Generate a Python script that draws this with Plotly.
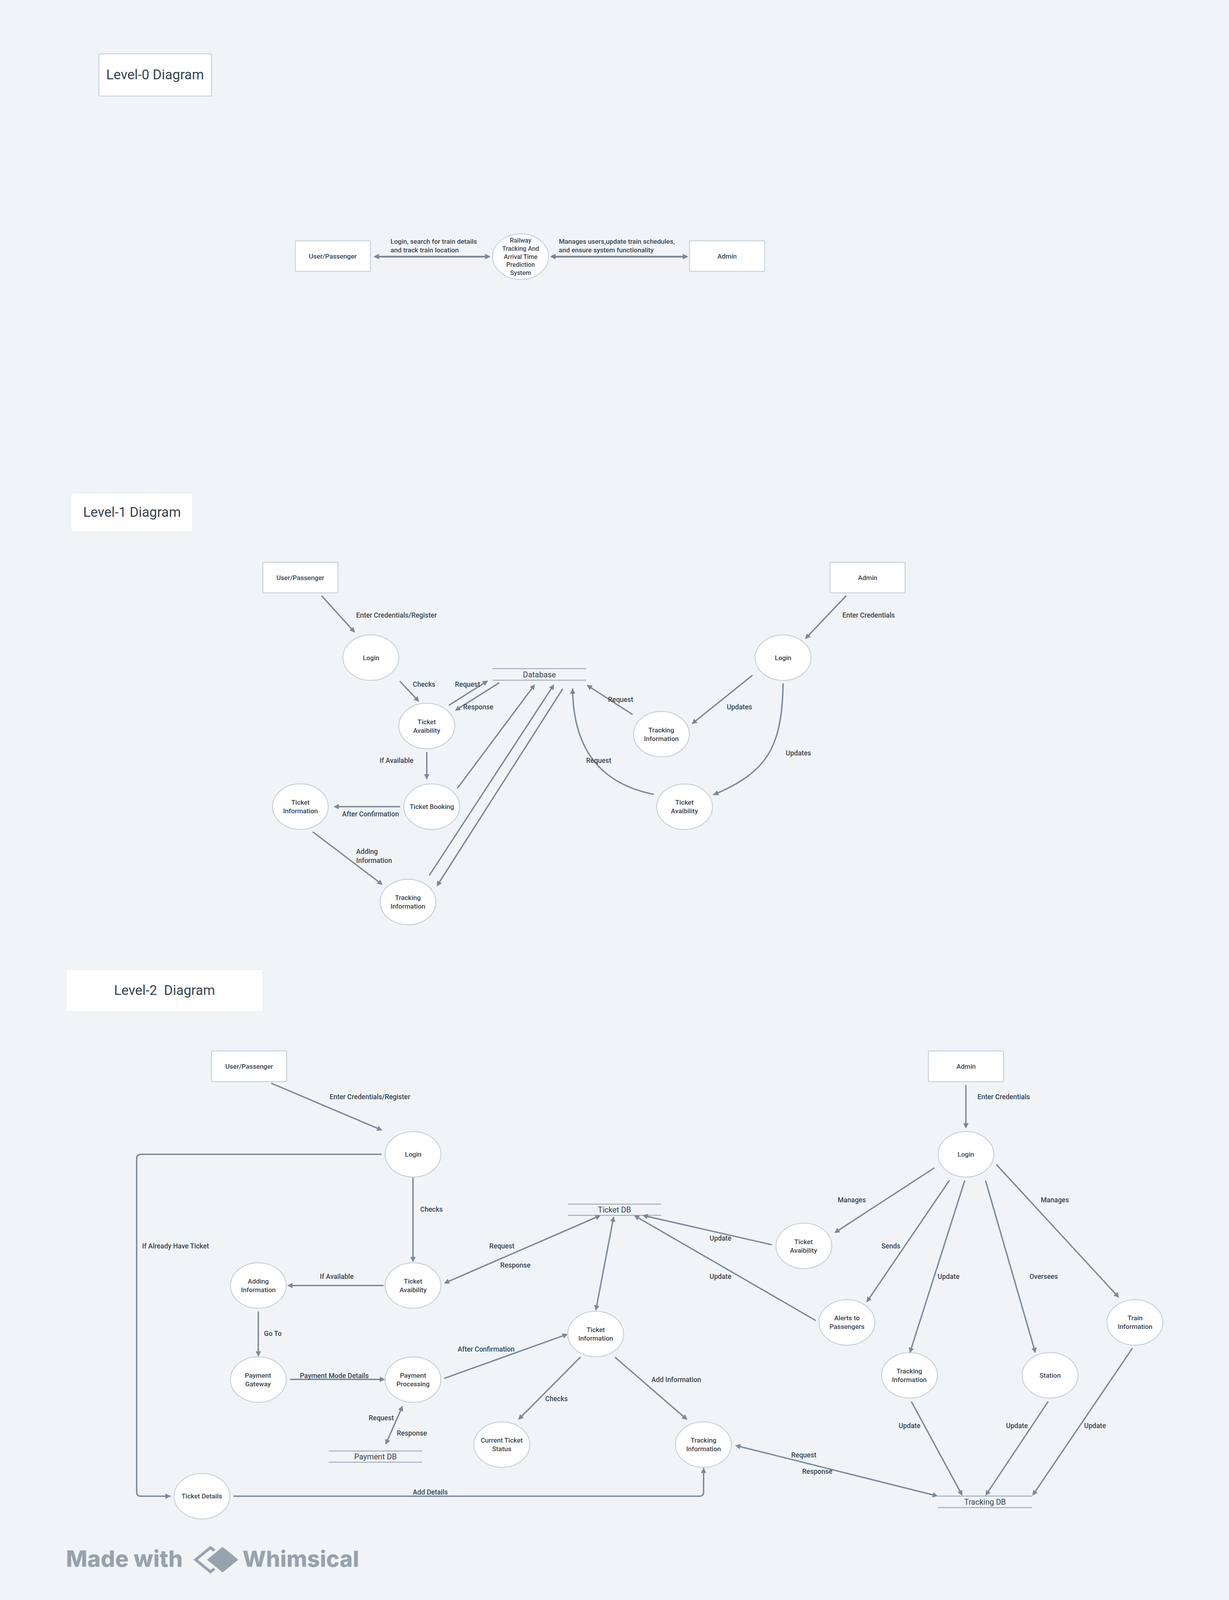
import math

import plotly.graph_objects as go

# the Whimsical export is 3147 x 5025 px; everything is placed on a 982 x 1568 grid
PAGE_W, PAGE_H = 982, 1568

BG = "#f0f4f7"
INK = "#37434f"
WIRE = "#7b8896"
RIM = "#c8d2dc"
BRAND = "#97a2ac"
FONT = "Roboto"

# ---- section titles
title_text = ["Level-0 Diagram", "Level-1 Diagram", "Level-2  Diagram"]
title_x0 = [79, 56.7, 52.9]
title_x1 = [169, 154, 210]
title_y0 = [52.7, 483.4, 950.2]
title_y1 = [94.2, 520.8, 991.2]
title_framed = [True, False, False]

# ---- external entities (boxes)
entity_label = ["User/Passenger", "Admin", "User/Passenger", "Admin", "User/Passenger", "Admin"]
entity_x = [266, 581, 240, 693.2, 199, 771.8]
entity_y = [251, 251, 566, 566, 1045, 1045]

# ---- processes (circles)
proc_label = [
    "Railway<br>Tracking And<br>Arrival Time<br>Prediction<br>System",
    # level 1
    "Login", "Ticket<br>Avaibility", "Ticket Booking", "Ticket<br>Information",
    "Tracking<br>Information", "Login", "Tracking<br>Information", "Ticket<br>Avaibility",
    # level 2
    "Login", "Ticket<br>Avaibility", "Adding<br>Information", "Payment<br>Gateway",
    "Payment<br>Processing", "Ticket Details", "Ticket<br>Information",
    "Current Ticket<br>Status", "Tracking<br>Information", "Login", "Ticket<br>Avaibility",
    "Alerts to<br>Passengers", "Train<br>Information", "Tracking<br>Information", "Station",
]
proc_x = [416,
          296.3, 341, 345, 240, 326, 625.7, 528.5, 547,
          330, 330, 206.4, 206.4, 330, 161.4, 476, 401, 562, 771.8, 642.3,
          676.7, 906.8, 726.7, 839]
proc_y = [251.5,
          644.5, 711.5, 790.5, 790.5, 884, 644.6, 719.5, 790.6,
          1131.2, 1259.8, 1259.8, 1352, 1352, 1466.3, 1307.3, 1415.7, 1415.7, 1131.2, 1221,
          1296, 1296, 1347.8, 1347.8]

# ---- data stores (two rules with a name)
store_label = ["Database", "Ticket DB", "Payment DB", "Tracking DB"]
store_x0 = [393.5, 453.7, 262.6, 749.4]
store_x1 = [468.4, 528.3, 337.3, 824.7]
store_top = [655.3, 1180, 1422, 1466.2]
store_bot = [666.6, 1191, 1433, 1477.5]

# ---- level-0 flows (both ends arrowed)
l0_flows = [(298, 251.5, 392, 251.5), (439, 251.5, 550, 251.5)]
l0_notes = ["Login, search for train details<br>and track train location",
            "Manages users,update train schedules,<br>and ensure system functionality"]
l0_note_x = [311.5, 446]
l0_note_y = [249.6, 249.6]   # bottom of the two-line note, just above the arrow

# ---- straight flows: tail x, tail y, head x, head y, two-way
flows = [
    # level 1
    (256.5, 583.2, 283.7, 620, False),
    (319, 667, 335, 687.8, False),
    (358.2, 691.5, 390, 667, False),
    (399.4, 668.7, 363.5, 696.5, False),
    (341, 736.4, 341, 764, False),
    (320, 790.5, 266.5, 790.5, False),
    (249.4, 814.7, 305.8, 867.2, False),
    (365, 773.3, 427.5, 670.6, False),
    (342.6, 858.7, 442.8, 670.6, False),
    (450, 674.3, 348.9, 868.7, False),
    (676.6, 583.2, 643.2, 626.3, False),
    (601.7, 661.3, 552.6, 709.6, False),
    (505.8, 700.5, 468.7, 671.2, False),
    # level 2
    (216.3, 1061.3, 305.5, 1107.8, False),
    (330, 1153.4, 330, 1237, False),
    (307, 1259.8, 229.5, 1259.8, False),
    (206.4, 1284.7, 206.4, 1329.6, False),
    (231.2, 1351.8, 307.7, 1351.8, False),
    (322, 1377, 308, 1415.8, True),
    (354.2, 1258, 480, 1191, True),
    (490.5, 1191.4, 476, 1284.5, True),
    (617.3, 1220, 513.3, 1191, False),
    (652.2, 1294.4, 506.5, 1191, False),
    (354.5, 1351, 453.7, 1307.4, False),
    (464.3, 1329.3, 414, 1391.4, False),
    (490.9, 1329.6, 549.2, 1391.4, False),
    (771.8, 1062.7, 771.8, 1106, False),
    (747, 1144.2, 666.6, 1208.3, False),
    (759, 1156, 692.3, 1276.4, False),
    (771, 1156.4, 726.9, 1326.1, False),
    (787.3, 1156.4, 827.4, 1326.1, False),
    (795.7, 1140.7, 894.2, 1271.8, False),
    (727.9, 1372.9, 769, 1465.8, False),
    (837.8, 1372.9, 787.4, 1465.8, False),
    (905.1, 1320.7, 824.9, 1465.8, False),
    (586.9, 1416.3, 749.4, 1466.2, True),
]

# ---- curved flows (cubic: start, ctrl1, ctrl2, end)
curves = [
    [(625.7, 669.6), (625, 732), (613, 757), (569.8, 779)],
    [(522.4, 778.5), (480, 768), (458, 735), (457.5, 674.6)],
]

# ---- elbow flows with rounded corners (corner points)
elbows = [
    [(304.9, 1131.2), (109.2, 1131.2), (109.2, 1466.3), (136.4, 1466.3)],
    [(186.5, 1466.3), (562.2, 1466.3), (562.2, 1438.3)],
]

# ---- flow labels
note_text = [
    "Enter Credentials/Register", "Checks", "Request", "Response", "If Available",
    "After Confirmation", "Adding<br>Information", "Enter Credentials", "Updates",
    "Updates", "Request", "Request",
    "Enter Credentials/Register", "If Already Have Ticket", "Checks", "If Available",
    "Go To", "Payment Mode Details", "Request", "Response", "Request", "Response",
    "Update", "Update", "After Confirmation", "Checks", "Add Information",
    "Add Details", "Enter Credentials", "Manages", "Sends", "Update", "Oversees",
    "Manages", "Update", "Update", "Update", "Request", "Response",
]
note_x = [284, 339, 373.5, 382, 317, 296, 284, 672.5, 591, 638, 478.4, 495.8,
          262.7, 113, 335.2, 269, 210.3, 267, 304.5, 329, 401, 411.7,
          575.7, 575.7, 388.6, 444.7, 540.3, 343.8, 780.3, 680.7, 711.8, 757.8, 834,
          842.7, 726.6, 812.5, 875.1, 642.3, 652.9]
note_y = [603, 670.6, 670.6, 693, 745.5, 797.6, 838.9, 603, 693, 738, 745.5, 685.5,
          1075, 1221, 1185, 1251, 1307, 1348.3, 1389.5, 1404.5, 1221, 1239.8,
          1213.5, 1251, 1322.2, 1370.8, 1352.1, 1462.4, 1075, 1176, 1221, 1251, 1251,
          1176, 1397.2, 1397.2, 1397.2, 1425.8, 1442]
note_left = {0, 6, 7, 12, 13, 14, 16, 28}

BOX_W, BOX_H = 60, 30
R = 22.3
R0 = 22.4


def rounded_rect(x0, y0, x1, y1, r=1.3):
    return (f"M{x0 + r},{y0} H{x1 - r} Q{x1},{y0} {x1},{y0 + r} V{y1 - r} "
            f"Q{x1},{y1} {x1 - r},{y1} H{x0 + r} Q{x0},{y1} {x0},{y1 - r} "
            f"V{y0 + r} Q{x0},{y0} {x0 + r},{y0} Z")


def elbow_path(pts, r=4):
    d = f"M{pts[0][0]},{pts[0][1]}"
    for i in range(1, len(pts) - 1):
        (ax_, ay_), (bx, by), (cx, cy) = pts[i - 1], pts[i], pts[i + 1]
        l1 = math.hypot(bx - ax_, by - ay_)
        l2 = math.hypot(cx - bx, cy - by)
        p = (bx - (bx - ax_) / l1 * r, by - (by - ay_) / l1 * r)
        q = (bx + (cx - bx) / l2 * r, by + (cy - by) / l2 * r)
        d += f" L{p[0]},{p[1]} Q{bx},{by} {q[0]},{q[1]}"
    d += f" L{pts[-1][0]},{pts[-1][1]}"
    return d


def add_arrow(fig, x0, y0, x1, y1, both=False, width=3.5, size=0.78):
    fig.add_annotation(
        x=x1, y=y1, ax=x0, ay=y0, xref="x", yref="y", axref="x", ayref="y",
        text="", showarrow=True, arrowhead=2, arrowsize=size, arrowwidth=width,
        arrowcolor=WIRE, standoff=0, startstandoff=0,
        arrowside="end+start" if both else "end",
        startarrowhead=2, startarrowsize=size,
    )


def add_tip(fig, prev, end):
    dx, dy = end[0] - prev[0], end[1] - prev[1]
    n = math.hypot(dx, dy)
    add_arrow(fig, end[0] - dx / n * 3, end[1] - dy / n * 3, end[0], end[1])


fig = go.Figure()
# invisible anchor trace so the axes exist
fig.add_trace(go.Scatter(x=proc_x, y=proc_y, mode="markers", marker=dict(opacity=0),
                         hoverinfo="skip", showlegend=False))

# connectors drawn as shapes first
for c in curves:
    (sx, sy), (c1x, c1y), (c2x, c2y), (ex, ey) = c
    fig.add_shape(type="path", path=f"M{sx},{sy} C{c1x},{c1y} {c2x},{c2y} {ex},{ey}",
                  line=dict(color=WIRE, width=3.5), xref="x", yref="y")
    add_tip(fig, c[2], c[3])

for e in elbows:
    fig.add_shape(type="path", path=elbow_path(e), line=dict(color=WIRE, width=3.5),
                  xref="x", yref="y")
    add_tip(fig, e[-2], e[-1])

# title boxes
for t, x0, x1, y0, y1, framed in zip(title_text, title_x0, title_x1, title_y0, title_y1,
                                     title_framed):
    fig.add_shape(type="path", path=rounded_rect(x0, y0, x1, y1), fillcolor="white",
                  line=dict(color=RIM if framed else "#e6ebef", width=2.5 if framed else 1),
                  xref="x", yref="y")
    fig.add_annotation(x=(x0 + x1) / 2, y=(y0 + y1) / 2, text=t, showarrow=False,
                       font=dict(family=FONT, size=35, color=INK))

# entity boxes
for lab, cx, cy in zip(entity_label, entity_x, entity_y):
    fig.add_shape(type="path",
                  path=rounded_rect(cx - BOX_W / 2, cy - BOX_H / 2, cx + BOX_W / 2, cy + BOX_H / 2, 0.8),
                  fillcolor="white", line=dict(color=RIM, width=2.5), xref="x", yref="y")
    fig.add_annotation(x=cx, y=cy, text=lab, showarrow=False,
                       font=dict(family=FONT, size=17, color=INK, weight=500))

# process circles
for i, (lab, cx, cy) in enumerate(zip(proc_label, proc_x, proc_y)):
    r = R0 if i == 0 else R
    fig.add_shape(type="circle", x0=cx - r, x1=cx + r, y0=cy - r, y1=cy + r,
                  fillcolor="white", line=dict(color=RIM, width=2.5), xref="x", yref="y")
    fig.add_annotation(x=cx, y=cy, text=lab, showarrow=False,
                       font=dict(family=FONT, size=16 if i == 0 else 17, color=INK, weight=500))

# data stores
for lab, x0, x1, yt, yb in zip(store_label, store_x0, store_x1, store_top, store_bot):
    for yy in (yt, yb):
        fig.add_shape(type="line", x0=x0, x1=x1, y0=yy, y1=yy,
                      line=dict(color="#a3afbb", width=2.5), xref="x", yref="y")
    fig.add_annotation(x=(x0 + x1) / 2, y=(yt + yb) / 2, text=lab, showarrow=False,
                       font=dict(family=FONT, size=20, color=INK))

# level-0 flows and notes
for x0, y0, x1, y1 in l0_flows:
    add_arrow(fig, x0, y0, x1, y1, both=True, width=4.6, size=0.62)
for t, x, y in zip(l0_notes, l0_note_x, l0_note_y):
    fig.add_annotation(x=x, y=y, text=t, showarrow=False, xanchor="left", yanchor="bottom",
                       align="left", font=dict(family=FONT, size=17, color=INK, weight=500))

# straight flows
for x0, y0, x1, y1, both in flows:
    add_arrow(fig, x0, y0, x1, y1, both=both)

# flow labels
for i, (t, x, y) in enumerate(zip(note_text, note_x, note_y)):
    left = i in note_left
    fig.add_annotation(x=x, y=y, text=t, showarrow=False,
                       xanchor="left" if left else "center", align="left" if left else "center",
                       font=dict(family=FONT, size=17.5, color=INK, weight=500))

# "Made with Whimsical" footer
fig.add_annotation(x=52, y=1527.5, text="Made with", showarrow=False, xanchor="left",
                   font=dict(family="Inter", size=58, color=BRAND, weight=800))
fig.add_annotation(x=193, y=1527.5, text="Whimsical", showarrow=False, xanchor="left",
                   font=dict(family="Inter", size=57, color=BRAND, weight=800))
lx, ly, h = 168.2, 1528.5, 11.9
fig.add_shape(type="path", path=f"M{lx - h},{ly} L{lx},{ly - h} L{lx + h},{ly} L{lx},{ly + h} Z",
              line=dict(color=BRAND, width=7), xref="x", yref="y")
fx, h2 = 177.9, 14.0
fig.add_shape(type="path", path=f"M{fx - h2},{ly} L{fx},{ly - h2} L{fx + h2},{ly} L{fx},{ly + h2} Z",
              fillcolor=BRAND, line=dict(color=BG, width=6), xref="x", yref="y")

# the figure fills the browser window, so the whole page is always in view
fig.update_layout(
    autosize=True,
    margin=dict(l=0, r=0, t=0, b=0),
    paper_bgcolor=BG, plot_bgcolor=BG,
    showlegend=False,
    xaxis=dict(range=[0, PAGE_W], visible=False, fixedrange=True),
    yaxis=dict(range=[PAGE_H, 0], visible=False, fixedrange=True),
)

fit_to_window = (
    "document.body.style.margin='0';"
    "document.body.style.overflow='hidden';"
    "var gd=document.getElementById('{plot_id}');"
    "Plotly.relayout(gd,{width:window.innerWidth,height:window.innerHeight});"
)

fig.write_html("out.html", default_width="100vw", default_height="100vh",
               config={"responsive": True, "displayModeBar": False},
               post_script=fit_to_window)
